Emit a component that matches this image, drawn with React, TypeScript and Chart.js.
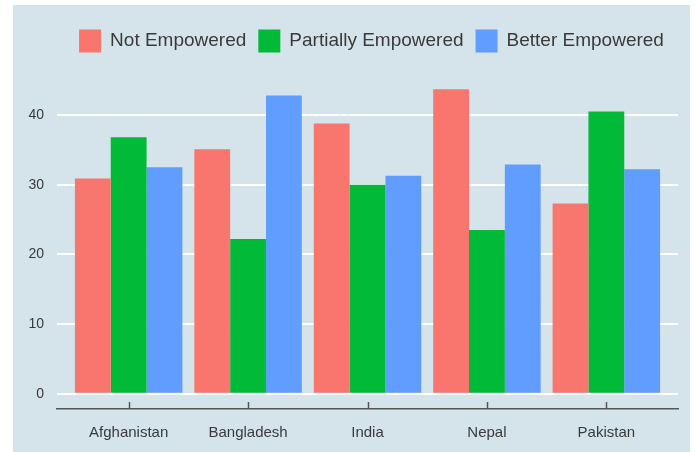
import React, { useEffect, useRef } from "react";
import { Chart, registerables } from "chart.js";

Chart.register(...registerables);

const countries = ["Afghanistan", "Bangladesh", "India", "Nepal", "Pakistan"];
const notEmpowered = [30.9, 35.1, 38.8, 43.7, 27.3];
const partiallyEmpowered = [36.8, 22.2, 30.0, 23.5, 40.5];
const betterEmpowered = [32.5, 42.8, 31.3, 32.9, 32.2];
const yTicks = [0, 10, 20, 30, 40];
const seriesNames = ["Not Empowered", "Partially Empowered", "Better Empowered"];
const seriesColors = ["#F8766D", "#00BA38", "#619CFF"];

const BG = "#d5e4eb";
const TEXT = "#3a3a3a";
const FONT = "'Liberation Sans', Arial, sans-serif";

export default function App() {
  const ref = useRef<HTMLCanvasElement | null>(null);

  useEffect(() => {
    document.body.style.margin = "0";
    const canvas = ref.current;
    if (!canvas) return;

    const toPoints = (arr: number[]) => arr.map((v, i) => ({ x: i + 1, y: v }));
    const values = [notEmpowered, partiallyEmpowered, betterEmpowered];

    const bgPlugin = {
      id: "bgPlugin",
      beforeDraw(chart: any) {
        const ctx = chart.ctx;
        ctx.save();
        ctx.fillStyle = "#ffffff";
        ctx.fillRect(0, 0, chart.width, chart.height);
        ctx.fillStyle = BG;
        ctx.fillRect(13, 5, chart.width - 18, chart.height - 5);
        ctx.restore();
      },
      afterDraw(chart: any) {
        const ctx = chart.ctx;
        const area = chart.chartArea;
        const xs = chart.scales.x;
        ctx.save();
        // inward ticks on x axis
        ctx.strokeStyle = "#555555";
        ctx.lineWidth = 1.5;
        xs.ticks.forEach((t: any) => {
          const px = Math.round(xs.getPixelForValue(t.value)) + 0.5;
          ctx.beginPath();
          ctx.moveTo(px, area.bottom);
          ctx.lineTo(px, area.bottom - 7);
          ctx.stroke();
        });
        // legend
        ctx.font = `19px ${FONT}`;
        ctx.textBaseline = "middle";
        const boxW = 22;
        const boxH = 23;
        const gapText = 9;
        const gapItem = 12;
        const widths = chart.data.datasets.map((d: any) => ctx.measureText(d.label).width);
        let total = 0;
        widths.forEach((w: number, i: number) => {
          total += boxW + gapText + w + (i < widths.length - 1 ? gapItem : 0);
        });
        let x = 371.5 - total / 2;
        const cy = 41;
        chart.data.datasets.forEach((d: any, i: number) => {
          ctx.fillStyle = d.backgroundColor;
          ctx.fillRect(x, cy - boxH / 2, boxW, boxH);
          x += boxW + gapText;
          ctx.fillStyle = TEXT;
          ctx.textAlign = "left";
          ctx.fillText(d.label, x, cy);
          x += widths[i] + gapItem;
        });
        ctx.restore();
      },
    };

    const chart = new Chart(canvas, {
      type: "bar",
      data: {
        datasets: seriesNames.map((name, i) => ({
          label: name,
          data: toPoints(values[i]) as any,
          backgroundColor: seriesColors[i],
          borderWidth: 0,
          categoryPercentage: 0.9,
          barPercentage: 1.0,
        })),
      },
      options: {
        animation: false,
        responsive: false,
        maintainAspectRatio: false,
        layout: { padding: { left: 0, right: 17, top: 74, bottom: 0 } },
        plugins: {
          legend: { display: false },
          tooltip: { enabled: false },
        },
        scales: {
          x: {
            type: "linear",
            offset: false,
            min: 0.4,
            max: 5.6,
            afterBuildTicks: (scale: any) => {
              scale.ticks = countries.map((_, i) => ({ value: i + 1 }));
            },
            afterFit: (scale: any) => {
              scale.height = 43;
            },
            ticks: {
              autoSkip: false,
              maxRotation: 0,
              padding: 15,
              color: TEXT,
              font: { family: FONT, size: 15 },
              callback: (v: any) => countries[Math.round(Number(v)) - 1] ?? "",
            },
            grid: { display: true, color: "rgba(0,0,0,0)", drawTicks: false, offset: false },
            border: { display: true, color: "#555555", width: 1.5 },
          },
          y: {
            min: -2.185,
            max: 45.885,
            afterBuildTicks: (scale: any) => {
              scale.ticks = yTicks.map((v) => ({ value: v }));
            },
            afterFit: (scale: any) => {
              scale.width = 57;
            },
            ticks: {
              padding: 13,
              color: TEXT,
              font: { family: FONT, size: 14 },
            },
            grid: { color: "#ffffff", lineWidth: 2, drawTicks: false },
            border: { display: false },
          },
        },
      },
      plugins: [bgPlugin],
    });

    return () => chart.destroy();
  }, []);

  return (
    <div style={{ width: 695, height: 452 }}>
      <canvas ref={ref} width={695} height={452} style={{ display: "block" }} />
    </div>
  );
}
